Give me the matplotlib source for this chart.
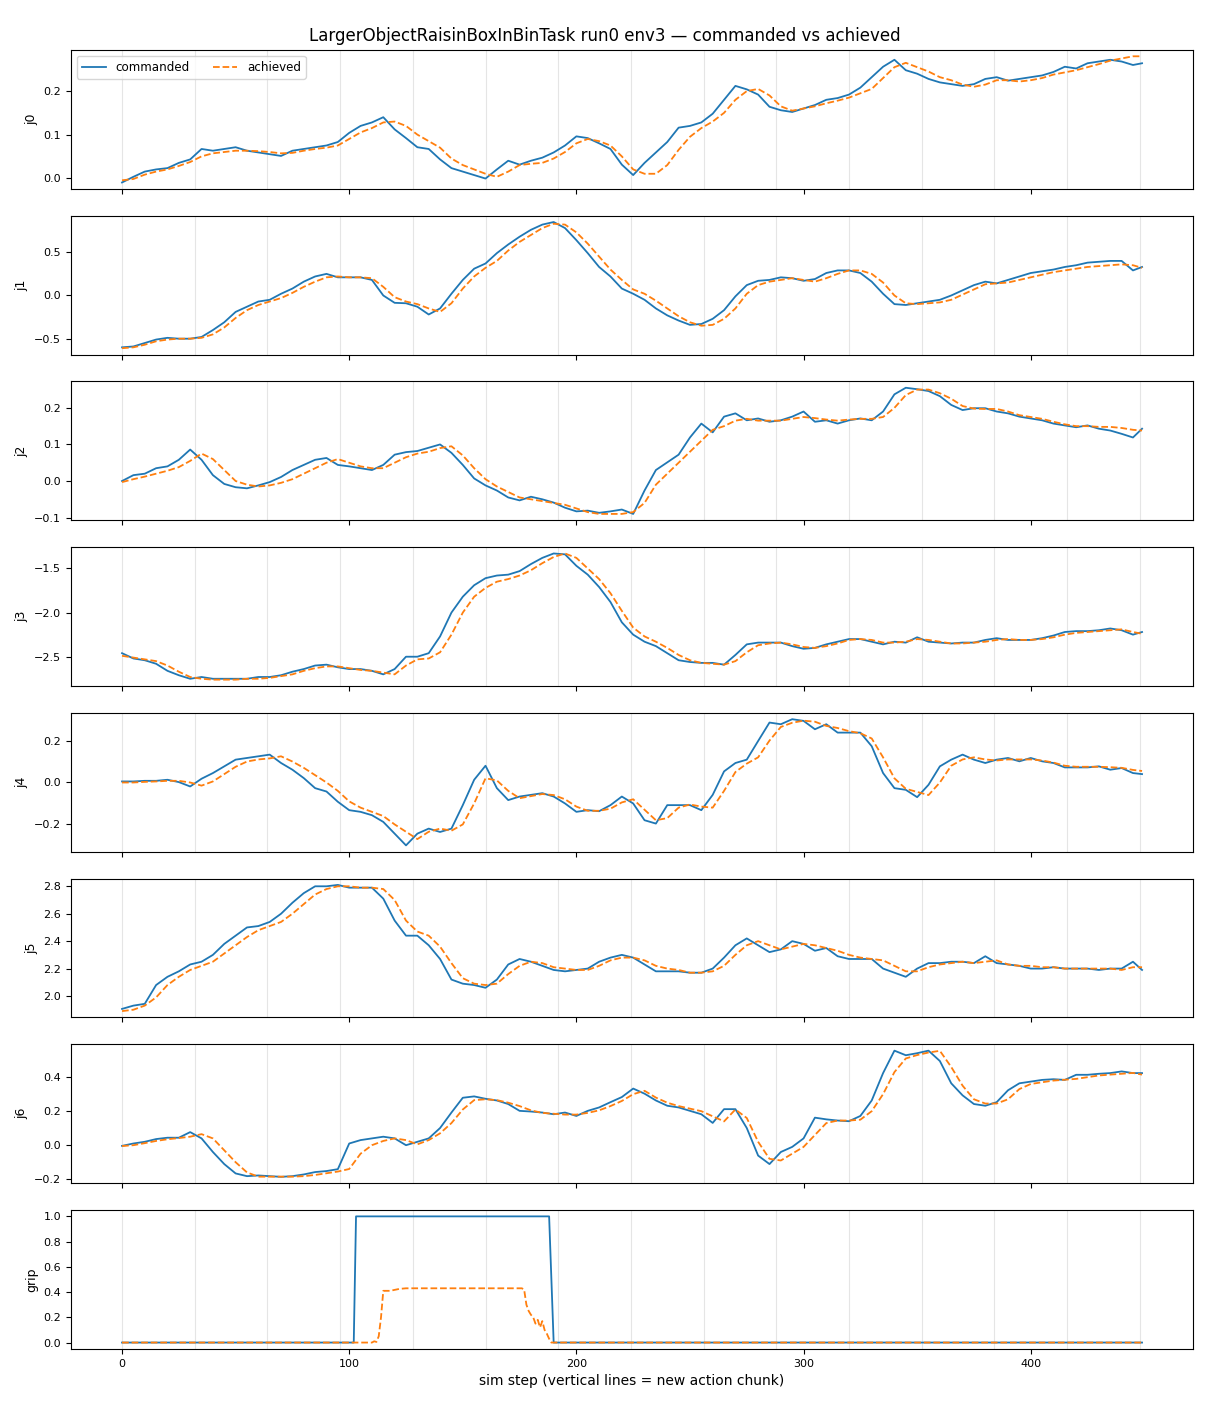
import numpy as np
import matplotlib
matplotlib.use("Agg")
import matplotlib.pyplot as plt

title = "LargerObjectRaisinBoxInBinTask run0 env3 \u2014 commanded vs achieved"
joint_names = ["j0", "j1", "j2", "j3", "j4", "j5", "j6"]
chunk_size = 32
n_steps = 450

# sample steps (every 5 sim steps, plus the last one)
steps = list(range(0, 450, 5)) + [449]

j0_cmd = [-0.01, 0.003, 0.015, 0.02, 0.023, 0.035, 0.043, 0.067, 0.063, 0.067,
          0.071, 0.063, 0.059, 0.055, 0.051, 0.063, 0.067, 0.071, 0.075, 0.083,
          0.104, 0.12, 0.128, 0.14, 0.112, 0.092, 0.071, 0.067, 0.043, 0.023,
          0.015, 0.007, -0.001, 0.02, 0.04, 0.031, 0.04, 0.047, 0.059, 0.075,
          0.096, 0.092, 0.08, 0.067, 0.031, 0.007, 0.035, 0.059, 0.083, 0.116,
          0.12, 0.128, 0.148, 0.18, 0.212, 0.204, 0.192, 0.164, 0.156, 0.152,
          0.16, 0.168, 0.18, 0.184, 0.192, 0.208, 0.232, 0.256, 0.272, 0.248,
          0.24, 0.228, 0.22, 0.216, 0.212, 0.216, 0.228, 0.232, 0.224, 0.228,
          0.232, 0.236, 0.244, 0.256, 0.252, 0.264, 0.268, 0.272, 0.268, 0.26,
          0.264]
j0_ach = [-0.005, -0.002, 0.008, 0.015, 0.02, 0.028, 0.037, 0.05, 0.057, 0.06,
          0.063, 0.063, 0.062, 0.06, 0.057, 0.058, 0.063, 0.067, 0.07, 0.075,
          0.09, 0.105, 0.115, 0.128, 0.13, 0.12, 0.1, 0.085, 0.07, 0.045,
          0.03, 0.02, 0.01, 0.003, 0.015, 0.03, 0.033, 0.035, 0.045, 0.06,
          0.08, 0.09, 0.085, 0.075, 0.05, 0.02, 0.01, 0.01, 0.03, 0.065,
          0.095, 0.115, 0.13, 0.15, 0.18, 0.2, 0.205, 0.19, 0.165, 0.155,
          0.16, 0.165, 0.172, 0.178, 0.185, 0.195, 0.205, 0.23, 0.255, 0.265,
          0.255, 0.245, 0.232, 0.225, 0.215, 0.21, 0.215, 0.225, 0.225, 0.222,
          0.225, 0.23, 0.238, 0.243, 0.248, 0.255, 0.262, 0.27, 0.275, 0.28,
          0.28]

j1_cmd = [-0.6, -0.59, -0.55, -0.51, -0.49, -0.5, -0.5, -0.48, -0.4, -0.31,
          -0.19, -0.13, -0.07, -0.05, 0.02, 0.08, 0.16, 0.22, 0.25, 0.21,
          0.21, 0.21, 0.18, 0.0, -0.085, -0.09, -0.13, -0.22, -0.15, 0.02,
          0.18, 0.31, 0.37, 0.49, 0.59, 0.68, 0.76, 0.82, 0.85, 0.78,
          0.64, 0.49, 0.33, 0.22, 0.08, 0.02, -0.05, -0.15, -0.23, -0.29,
          -0.34, -0.33, -0.27, -0.17, -0.01, 0.12, 0.17, 0.18, 0.21, 0.2,
          0.17, 0.19, 0.26, 0.29, 0.29, 0.26, 0.16, 0.02, -0.1, -0.11,
          -0.09, -0.07, -0.05, 0.0, 0.06, 0.12, 0.16, 0.14, 0.18, 0.22,
          0.26, 0.28, 0.3, 0.33, 0.35, 0.38, 0.39, 0.4, 0.4, 0.29,
          0.33]
j1_ach = [-0.61, -0.6, -0.57, -0.53, -0.51, -0.5, -0.5, -0.49, -0.45, -0.37,
          -0.26, -0.17, -0.11, -0.07, -0.03, 0.03, 0.1, 0.16, 0.21, 0.22,
          0.21, 0.21, 0.2, 0.1, -0.02, -0.07, -0.1, -0.15, -0.19, -0.09,
          0.08, 0.22, 0.32, 0.4, 0.52, 0.62, 0.7, 0.78, 0.83, 0.82,
          0.73, 0.6, 0.45, 0.3, 0.18, 0.07, 0.02, -0.06, -0.15, -0.24,
          -0.31, -0.35, -0.34, -0.27, -0.15, 0.02, 0.12, 0.16, 0.18, 0.2,
          0.18, 0.16, 0.2, 0.25, 0.29, 0.29, 0.25, 0.15, 0.0, -0.09,
          -0.1, -0.09, -0.08, -0.05, 0.01, 0.07, 0.13, 0.14, 0.15, 0.18,
          0.21, 0.24, 0.27, 0.29, 0.31, 0.33, 0.34, 0.35, 0.36, 0.35,
          0.32]

j2_cmd = [0.0, 0.016, 0.02, 0.035, 0.04, 0.058, 0.086, 0.058, 0.016, -0.008,
          -0.017, -0.02, -0.012, -0.003, 0.011, 0.03, 0.044, 0.058, 0.063, 0.044,
          0.04, 0.035, 0.03, 0.044, 0.072, 0.079, 0.082, 0.091, 0.1, 0.077,
          0.044, 0.007, -0.012, -0.026, -0.045, -0.053, -0.043, -0.05, -0.059, -0.073,
          -0.083, -0.081, -0.087, -0.083, -0.078, -0.09, -0.026, 0.03, 0.051, 0.072,
          0.119, 0.157, 0.133, 0.176, 0.185, 0.166, 0.171, 0.162, 0.166, 0.176,
          0.19, 0.162, 0.166, 0.157, 0.166, 0.171, 0.166, 0.19, 0.237, 0.255,
          0.251, 0.246, 0.232, 0.208, 0.194, 0.199, 0.199, 0.19, 0.185, 0.176,
          0.171, 0.166, 0.157, 0.152, 0.147, 0.152, 0.143, 0.138, 0.129, 0.119,
          0.143]
j2_ach = [-0.003, 0.005, 0.012, 0.02, 0.028, 0.038, 0.055, 0.075, 0.06, 0.03,
          0.0, -0.01, -0.015, -0.012, -0.005, 0.005, 0.02, 0.035, 0.05, 0.06,
          0.05, 0.04, 0.035, 0.035, 0.05, 0.065, 0.075, 0.08, 0.09, 0.095,
          0.07, 0.035, 0.005, -0.015, -0.03, -0.045, -0.05, -0.055, -0.06, -0.065,
          -0.075, -0.085, -0.09, -0.09, -0.09, -0.085, -0.06, -0.01, 0.02, 0.05,
          0.08, 0.11, 0.14, 0.15, 0.165, 0.17, 0.165, 0.165, 0.165, 0.17,
          0.175, 0.172, 0.168, 0.165, 0.168, 0.17, 0.17, 0.175, 0.2, 0.235,
          0.25, 0.25, 0.24, 0.225, 0.205, 0.198, 0.197, 0.197, 0.19, 0.18,
          0.175, 0.17, 0.162, 0.155, 0.15, 0.15, 0.148, 0.148, 0.145, 0.14,
          0.138]

j3_cmd = [-2.46, -2.52, -2.54, -2.58, -2.66, -2.71, -2.75, -2.73, -2.75, -2.75,
          -2.75, -2.75, -2.73, -2.73, -2.71, -2.67, -2.64, -2.6, -2.59, -2.62,
          -2.64, -2.64, -2.66, -2.7, -2.64, -2.5, -2.5, -2.46, -2.27, -2.0,
          -1.82, -1.69, -1.61, -1.58, -1.57, -1.53, -1.45, -1.38, -1.33, -1.34,
          -1.47, -1.57, -1.71, -1.88, -2.11, -2.25, -2.33, -2.38, -2.46, -2.54,
          -2.56, -2.57, -2.57, -2.59, -2.48, -2.36, -2.34, -2.34, -2.34, -2.38,
          -2.41, -2.4, -2.36, -2.33, -2.3, -2.3, -2.33, -2.36, -2.33, -2.34,
          -2.28, -2.33, -2.34, -2.35, -2.34, -2.34, -2.31, -2.29, -2.31, -2.31,
          -2.31, -2.29, -2.26, -2.22, -2.21, -2.21, -2.2, -2.18, -2.2, -2.25,
          -2.22]
j3_ach = [-2.49, -2.51, -2.53, -2.55, -2.6, -2.67, -2.73, -2.75, -2.76, -2.76,
          -2.76, -2.75, -2.75, -2.74, -2.72, -2.7, -2.66, -2.63, -2.61, -2.61,
          -2.63, -2.65, -2.66, -2.68, -2.7, -2.6, -2.53, -2.52, -2.45, -2.25,
          -2.0, -1.82, -1.72, -1.65, -1.62, -1.58, -1.52, -1.44, -1.37, -1.33,
          -1.38, -1.5, -1.62, -1.78, -1.98, -2.17, -2.27, -2.33, -2.4, -2.48,
          -2.54, -2.57, -2.58, -2.59, -2.55, -2.45, -2.37, -2.35, -2.34, -2.36,
          -2.39, -2.4, -2.38, -2.35, -2.31, -2.3, -2.31, -2.34, -2.34, -2.33,
          -2.3, -2.31, -2.33, -2.35, -2.35, -2.34, -2.33, -2.31, -2.3, -2.31,
          -2.31, -2.3, -2.28, -2.25, -2.23, -2.22, -2.21, -2.2, -2.19, -2.22,
          -2.24]

j4_cmd = [0.005, 0.005, 0.008, 0.008, 0.013, 0.002, -0.019, 0.018, 0.045, 0.077,
          0.109, 0.117, 0.125, 0.133, 0.093, 0.061, 0.021, -0.027, -0.043, -0.092,
          -0.132, -0.14, -0.156, -0.188, -0.244, -0.3, -0.244, -0.22, -0.236, -0.22,
          -0.108, 0.013, 0.08, -0.027, -0.084, -0.067, -0.059, -0.051, -0.067, -0.1,
          -0.14, -0.132, -0.137, -0.108, -0.067, -0.1, -0.18, -0.196, -0.108, -0.108,
          -0.108, -0.132, -0.059, 0.053, 0.093, 0.109, 0.198, 0.286, 0.278, 0.302,
          0.294, 0.254, 0.278, 0.238, 0.238, 0.238, 0.173, 0.045, -0.027, -0.035,
          -0.07, -0.011, 0.077, 0.109, 0.133, 0.109, 0.093, 0.109, 0.117, 0.101,
          0.117, 0.101, 0.093, 0.072, 0.072, 0.072, 0.077, 0.061, 0.069, 0.045,
          0.04]
j4_ach = [0.0, 0.0, 0.003, 0.005, 0.008, 0.008, 0.0, -0.015, 0.005, 0.04,
          0.075, 0.1, 0.11, 0.115, 0.125, 0.1, 0.07, 0.035, 0.0, -0.04,
          -0.09, -0.12, -0.14, -0.16, -0.2, -0.235, -0.27, -0.235, -0.22, -0.23,
          -0.2, -0.1, 0.02, 0.01, -0.04, -0.075, -0.065, -0.055, -0.06, -0.08,
          -0.115, -0.135, -0.135, -0.125, -0.095, -0.08, -0.13, -0.18, -0.17, -0.12,
          -0.105, -0.115, -0.12, -0.04, 0.05, 0.09, 0.12, 0.2, 0.265, 0.285,
          0.295, 0.29, 0.27, 0.26, 0.245, 0.235, 0.21, 0.12, 0.02, -0.03,
          -0.045, -0.06, 0.0, 0.08, 0.11, 0.12, 0.11, 0.105, 0.11, 0.11,
          0.11, 0.105, 0.095, 0.08, 0.075, 0.075, 0.075, 0.073, 0.07, 0.06,
          0.055]

j5_cmd = [1.906, 1.93, 1.943, 2.08, 2.14, 2.18, 2.23, 2.25, 2.3, 2.38,
          2.44, 2.5, 2.51, 2.54, 2.6, 2.68, 2.75, 2.8, 2.8, 2.81,
          2.79, 2.79, 2.79, 2.71, 2.55, 2.44, 2.44, 2.37, 2.27, 2.12,
          2.09, 2.08, 2.06, 2.12, 2.23, 2.27, 2.25, 2.22, 2.19, 2.18,
          2.19, 2.2, 2.25, 2.28, 2.3, 2.28, 2.23, 2.18, 2.18, 2.18,
          2.17, 2.17, 2.2, 2.28, 2.37, 2.42, 2.37, 2.32, 2.34, 2.4,
          2.38, 2.33, 2.35, 2.29, 2.27, 2.27, 2.27, 2.2, 2.17, 2.14,
          2.2, 2.24, 2.24, 2.25, 2.25, 2.24, 2.29, 2.24, 2.23, 2.22,
          2.2, 2.2, 2.21, 2.2, 2.2, 2.2, 2.19, 2.2, 2.2, 2.25,
          2.19]
j5_ach = [1.89, 1.9, 1.93, 1.99, 2.08, 2.14, 2.19, 2.22, 2.25, 2.31,
          2.37, 2.43, 2.48, 2.51, 2.54, 2.6, 2.67, 2.74, 2.78, 2.8,
          2.8, 2.79, 2.79, 2.78, 2.7, 2.55, 2.47, 2.44, 2.36, 2.24,
          2.13, 2.09, 2.08, 2.09, 2.16, 2.22, 2.25, 2.24, 2.21, 2.2,
          2.19, 2.19, 2.22, 2.26, 2.28, 2.28, 2.26, 2.22, 2.2, 2.19,
          2.17, 2.17, 2.18, 2.22, 2.3, 2.37, 2.4, 2.37, 2.34, 2.36,
          2.38, 2.37, 2.35, 2.33, 2.3, 2.28, 2.27, 2.26, 2.22, 2.18,
          2.18, 2.21, 2.23, 2.24, 2.25, 2.24, 2.25, 2.26, 2.23, 2.22,
          2.22, 2.21, 2.21, 2.2, 2.2, 2.2, 2.2, 2.2, 2.19, 2.21,
          2.21]

j6_cmd = [-0.004, 0.01, 0.02, 0.036, 0.044, 0.044, 0.077, 0.04, -0.04, -0.111,
          -0.166, -0.182, -0.178, -0.182, -0.186, -0.182, -0.172, -0.158, -0.152, -0.141,
          0.01, 0.03, 0.04, 0.05, 0.04, 0.0, 0.02, 0.04, 0.101, 0.192,
          0.279, 0.287, 0.273, 0.263, 0.242, 0.202, 0.198, 0.192, 0.182, 0.192,
          0.172, 0.202, 0.222, 0.253, 0.283, 0.333, 0.303, 0.263, 0.232, 0.222,
          0.202, 0.182, 0.131, 0.212, 0.212, 0.101, -0.061, -0.111, -0.04, -0.01,
          0.04, 0.162, 0.152, 0.145, 0.141, 0.172, 0.263, 0.424, 0.556, 0.529,
          0.541, 0.556, 0.495, 0.364, 0.293, 0.242, 0.232, 0.253, 0.323, 0.364,
          0.374, 0.384, 0.388, 0.384, 0.414, 0.414, 0.42, 0.424, 0.434, 0.424,
          0.424]
j6_ach = [-0.005, 0.0, 0.012, 0.025, 0.035, 0.042, 0.05, 0.065, 0.04, -0.03,
          -0.1, -0.16, -0.185, -0.185, -0.185, -0.185, -0.182, -0.175, -0.165, -0.155,
          -0.14, -0.05, 0.0, 0.025, 0.04, 0.03, 0.005, 0.03, 0.07, 0.13,
          0.21, 0.265, 0.27, 0.265, 0.25, 0.23, 0.205, 0.19, 0.185, 0.18,
          0.18, 0.19, 0.205, 0.23, 0.26, 0.3, 0.32, 0.28, 0.25, 0.23,
          0.215, 0.2, 0.17, 0.14, 0.21, 0.16, 0.02, -0.08, -0.09, -0.05,
          -0.01, 0.06, 0.13, 0.145, 0.145, 0.15, 0.2, 0.3, 0.43, 0.51,
          0.53, 0.545, 0.555, 0.46, 0.35, 0.27, 0.245, 0.245, 0.27, 0.33,
          0.36, 0.37, 0.38, 0.385, 0.39, 0.4, 0.41, 0.415, 0.42, 0.425,
          0.415]

# gripper is a step signal, so it keeps its own breakpoints
grip_cmd_steps = [0, 102, 103, 188, 190, 449]
grip_cmd = [0, 0, 1, 1, 0, 0]
grip_ach_steps = [0, 110, 111, 112, 113, 114, 115, 118, 122, 125, 176, 177, 178,
                  179, 180, 181, 182, 183, 184, 185, 186, 187, 188, 189, 449]
grip_ach = [0, 0, 0.01, 0.005, 0.05, 0.2, 0.41, 0.41, 0.425, 0.43, 0.43, 0.42, 0.3,
            0.25, 0.22, 0.2, 0.15, 0.18, 0.12, 0.17, 0.1, 0.07, 0.03, 0.0, 0.0]

cmd_series = [j0_cmd, j1_cmd, j2_cmd, j3_cmd, j4_cmd, j5_cmd, j6_cmd]
ach_series = [j0_ach, j1_ach, j2_ach, j3_ach, j4_ach, j5_ach, j6_ach]


fig, axarr = plt.subplots(nrows=8, ncols=1, sharex=True, figsize=(12.1, 14.08), dpi=100)
fig.subplots_adjust(left=0.0587, right=0.986, top=0.9645, bottom=0.042, hspace=0.194)

for i, ax in enumerate(axarr):
    for s in range(0, n_steps, chunk_size):
        ax.axvline(s, color="gray", alpha=0.2, lw=0.8, zorder=0)
    if i < 7:
        ax.plot(steps, cmd_series[i], color="C0", lw=1.3, label="commanded")
        ax.plot(steps, ach_series[i], color="C1", lw=1.3, ls="--", label="achieved")
        ax.set_ylabel(joint_names[i], fontsize=9)
    else:
        ax.plot(grip_cmd_steps, grip_cmd, color="C0", lw=1.3, label="commanded")
        ax.plot(grip_ach_steps, grip_ach, color="C1", lw=1.3, ls="--", label="achieved")
        ax.set_ylabel("grip", fontsize=9)
    ax.tick_params(labelsize=8)

axarr[0].legend(loc="upper left", ncol=2, fontsize=8.6)
axarr[-1].set_xlabel("sim step (vertical lines = new action chunk)", fontsize=10)
fig.suptitle(title, fontsize=12, y=0.981)

fig.savefig("out.png", dpi=100)
